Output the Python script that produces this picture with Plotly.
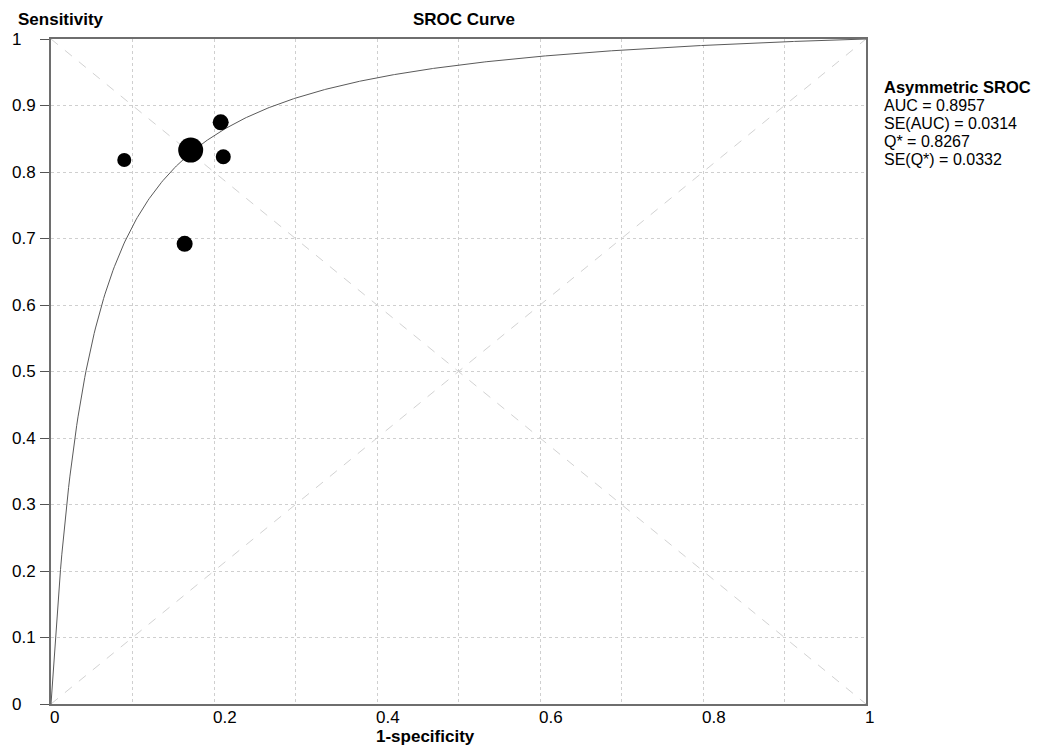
import numpy as np
import plotly.graph_objects as go

# Study points: false positive rate (1-specificity), sensitivity, marker size (study weight)
study_fpr = [0.0899, 0.1714, 0.2082, 0.2114, 0.1640]
study_tpr = [0.818, 0.833, 0.8747, 0.823, 0.692]
study_size = [14, 25, 16, 15, 16]

# Moses-Littenberg SROC fit in logit space: logit(TPR) = intercept + slope * logit(FPR)
sroc_intercept = 3.20
sroc_slope = 1.03

# Summary statistics shown at the right
stat_title = "Asymmetric SROC"
stat_lines = ["AUC = 0.8957", "SE(AUC) = 0.0314", "Q* = 0.8267", "SE(Q*) = 0.0332"]

x_ticks = [0, 0.2, 0.4, 0.6, 0.8, 1]
x_tick_text = ["0", "0.2", "0.4", "0.6", "0.8", "1"]
y_ticks = [0, 0.1, 0.2, 0.3, 0.4, 0.5, 0.6, 0.7, 0.8, 0.9, 1]
y_tick_text = ["0", "0.1", "0.2", "0.3", "0.4", "0.5", "0.6", "0.7", "0.8", "0.9", "1"]

W, H = 1045, 747
L, R, T, B = 51, 179, 39, 43
PW, PH = W - L - R, H - T - B


def px_x(p):
    return (p - L) / PW


def px_y(p):
    return (H - B - p) / PH


FONT = "Liberation Sans, Arial, sans-serif"

fpr_grid = np.concatenate([np.geomspace(1e-6, 0.01, 200), np.linspace(0.01, 0.999999, 600)])
lt = sroc_intercept + sroc_slope * np.log(fpr_grid / (1 - fpr_grid))
tpr_curve = 1 / (1 + np.exp(-lt))
fpr_curve = np.concatenate([[0.0], fpr_grid, [1.0]])
tpr_curve = np.concatenate([[0.0], tpr_curve, [1.0]])

fig = go.Figure()
fig.add_trace(go.Scatter(
    x=fpr_curve, y=tpr_curve, mode="lines",
    line=dict(color="#5a5a5a", width=1), hoverinfo="skip", showlegend=False,
))
fig.add_trace(go.Scatter(
    x=study_fpr, y=study_tpr, mode="markers",
    marker=dict(color="#000000", size=study_size, opacity=1, line=dict(width=0)),
    opacity=1, showlegend=False,
))

# reference diagonals
for x0, y0, x1, y1 in [(0, 0, 1, 1), (0, 1, 1, 0)]:
    fig.add_shape(type="line", x0=x0, y0=y0, x1=x1, y1=y1, xref="x", yref="y",
                  line=dict(color="#d2d2d2", width=1, dash="dash"), layer="below")

ann = []
for v, t in zip(x_ticks, x_tick_text):
    ann.append(dict(x=v, y=px_y(717), xref="x", yref="paper", text=t, showarrow=False,
                    xanchor="left", yanchor="middle", xshift=-3.5,
                    font=dict(family=FONT, size=17, color="black")))
for v, t in zip(y_ticks, y_tick_text):
    ann.append(dict(x=px_x(10), y=v, xref="paper", yref="y", text=t, showarrow=False,
                    xanchor="left", yanchor="middle",
                    font=dict(family=FONT, size=17, color="black")))

ann.append(dict(x=px_x(16), y=px_y(19.5), xref="paper", yref="paper", text="<b>Sensitivity</b>",
                showarrow=False, xanchor="left", yanchor="middle",
                font=dict(family=FONT, size=17, color="black")))
ann.append(dict(x=px_x(411), y=px_y(19.5), xref="paper", yref="paper", text="<b>SROC Curve</b>",
                showarrow=False, xanchor="left", yanchor="middle",
                font=dict(family=FONT, size=17, color="black")))
ann.append(dict(x=px_x(374), y=px_y(736), xref="paper", yref="paper", text="<b>1-specificity</b>",
                showarrow=False, xanchor="left", yanchor="middle",
                font=dict(family=FONT, size=17, color="black")))

ann.append(dict(x=px_x(882), y=px_y(87.5), xref="paper", yref="paper", text="<b>" + stat_title + "</b>",
                showarrow=False, xanchor="left", yanchor="middle",
                font=dict(family=FONT, size=16.5, color="black")))
for i, line in enumerate(stat_lines):
    ann.append(dict(x=px_x(882), y=px_y(105.5 + 18 * i), xref="paper", yref="paper", text=line,
                    showarrow=False, xanchor="left", yanchor="middle",
                    font=dict(family=FONT, size=16, color="black")))

grid = dict(showgrid=True, gridcolor="#cfcfcf", griddash="dot", gridwidth=1,
            zeroline=False, showline=True, linecolor="#6e6e6e", linewidth=1.5,
            mirror=True, range=[0, 1], dtick=0.1, tick0=0, showticklabels=False)

fig.update_layout(
    width=W, height=H,
    margin=dict(l=L, r=R, t=T, b=B, pad=0),
    paper_bgcolor="white", plot_bgcolor="white",
    xaxis=dict(**grid, ticks=""),
    yaxis=dict(**grid, ticks="outside", ticklen=9, tickcolor="#555555", tickwidth=1),
    annotations=ann,
    showlegend=False,
)

fig.write_html("out.html")
